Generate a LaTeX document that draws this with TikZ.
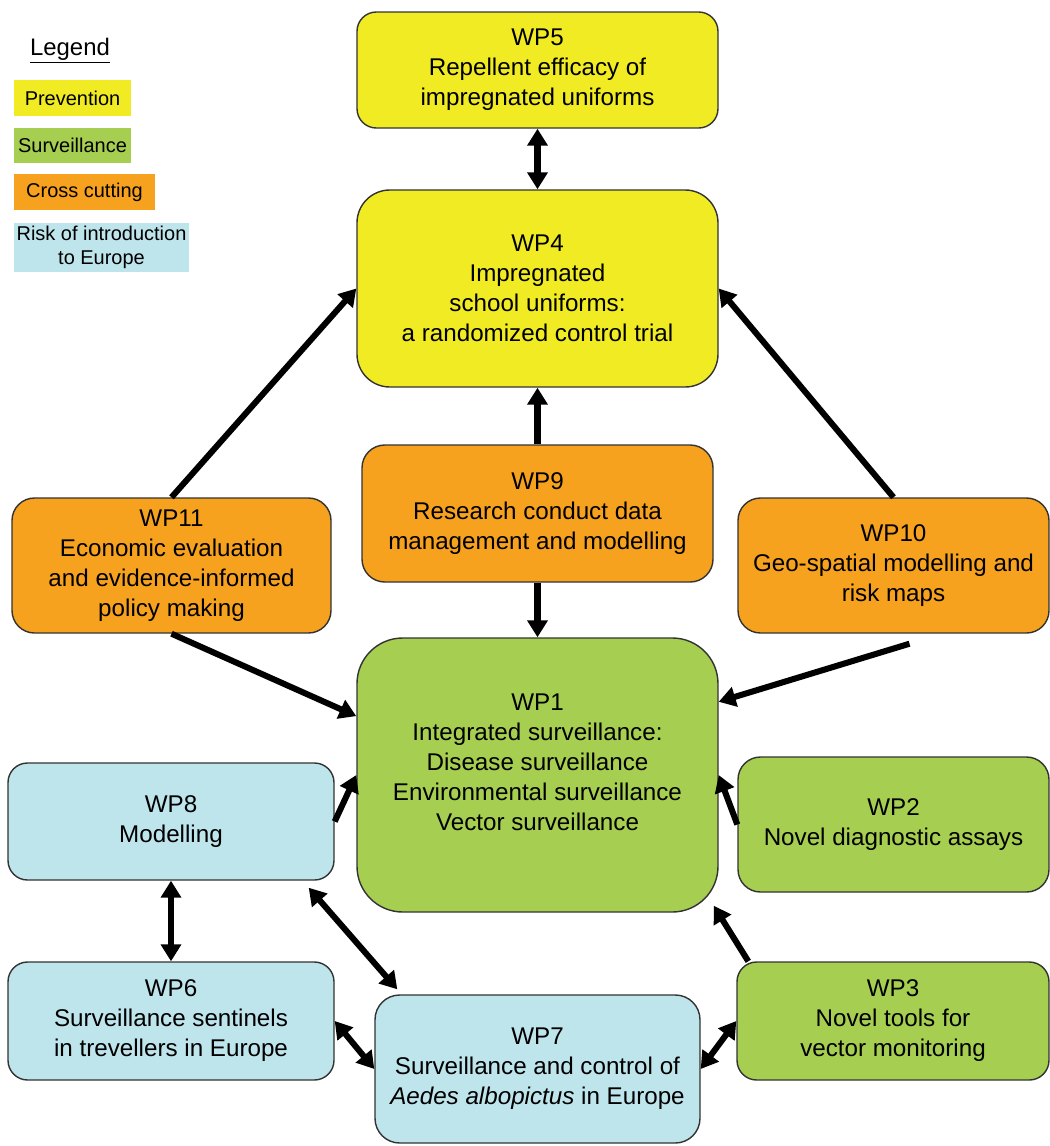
\documentclass[tikz,border=0pt]{standalone}
\usepackage{fontspec}
\setmainfont{Liberation Sans}
\usetikzlibrary{arrows.meta,calc}
\definecolor{cyel}{HTML}{F0EB23}
\definecolor{cgrn}{HTML}{A6CE50}
\definecolor{corg}{HTML}{F6A21F}
\definecolor{cblu}{HTML}{BEE4EC}
\definecolor{cedge}{HTML}{333333}
\begin{document}
\begin{tikzpicture}[x=0.025cm,y=-0.025cm,
  wpfont/.style={font=\fontsize{17.2}{21.3}\selectfont},
  wpbox/.style={draw=cedge, line width=1pt, align=center, inner sep=0pt, wpfont},
  sz/.style 2 args={minimum width=#1*0.025cm, minimum height=#2*0.025cm, rounded corners=#2*0.025cm/6},
  legsz/.style 2 args={minimum width=#1*0.025cm, minimum height=#2*0.025cm},
  legbox/.style={inner sep=0pt, align=center, font=\fontsize{14.2}{17}\selectfont},
  conn/.style={line width=4.3pt, -{Triangle[length=12pt,width=14pt]}},
  bconn/.style={line width=4.3pt, {Triangle[length=12pt,width=14pt]}-{Triangle[length=12pt,width=14pt]}},
]
\useasboundingbox (0,0) rectangle (1050,1146);

% legend
\node[anchor=base, inner sep=0pt, font=\fontsize{17}{20}\selectfont] (legtitle) at (70,55) {\underline{Legend}};
\node[legbox, fill=cyel, legsz={117}{36}] (legp) at (72.5,98) {Prevention};
\node[legbox, fill=cgrn, legsz={117}{35}] (legs) at (72.5,145.5) {Surveillance};
\node[legbox, fill=corg, legsz={141}{36}] (legc) at (84.5,192) {Cross cutting};
\node[legbox, fill=cblu, legsz={175}{49}] (legr) at (101.5,247.5) {Risk of introduction\\to Europe};

% work packages
\node[wpbox, fill=cyel, sz={361}{116}] (wp5) at (537.5,70) {WP5\\Repellent efficacy of\\impregnated uniforms};
\node[wpbox, fill=cyel, sz={361}{197}] (wp4) at (537.5,288.5) {WP4\\Impregnated\\school uniforms:\\a randomized control trial};
\node[wpbox, fill=corg, sz={351}{137}] (wp9) at (537.5,513.5) {WP9\\Research conduct data\\management and modelling};
\node[wpbox, fill=corg, sz={319}{135}] (wp11) at (171.5,565.5) {WP11\\Economic evaluation\\and evidence-informed\\policy making};
\node[wpbox, fill=corg, sz={311}{135}] (wp10) at (893.5,565.5) {WP10\\Geo-spatial modelling and\\risk maps};
\node[wpbox, fill=cgrn, sz={361}{274}] (wp1) at (537.5,775) {};
\node[wpfont, align=center, inner sep=0pt] (wp1t) at (537.5,762) {WP1\\Integrated surveillance:\\Disease surveillance\\Environmental surveillance\\Vector surveillance};
\node[wpbox, fill=cblu, sz={326}{117}] (wp8) at (171,821.5) {WP8\\Modelling};
\node[wpbox, fill=cgrn, sz={311}{135}] (wp2) at (893.5,824.5) {WP2\\Novel diagnostic assays};
\node[wpbox, fill=cblu, sz={326}{118}] (wp6) at (171,1021) {WP6\\Surveillance sentinels\\in trevellers in Europe};
\node[wpbox, fill=cblu, sz={325}{148}] (wp7) at (537.5,1069) {WP7\\Surveillance and control of\\\textit{Aedes albopictus} in Europe};
\node[wpbox, fill=cgrn, sz={312}{118}] (wp3) at (893,1021) {WP3\\Novel tools for\\vector monitoring};

% connectors
\draw[bconn] (wp5) -- (wp4);
\draw[conn] (wp9) -- (wp4);
\draw[conn] (wp9) -- (wp1);
\draw[conn] (wp11.north) -- (wp4.west);
\draw[conn] (wp10.north) -- (wp4.east);
\draw[conn] (wp11.south) -- (wp1.162);
\draw[conn] ($(wp10.south)+(16,10)$) -- (wp1.22);
\draw[conn] (wp8.east) -- (wp1.west);
\draw[conn] (wp2.west) -- (wp1.east);
\draw[bconn] (wp8.south) -- (wp6.north);
\draw[bconn] ($(wp8.south east)+(-26,7)$) -- ($(wp7.north west)+(23,-5)$);
\draw[bconn] (wp6.east) -- (wp7.west);
\draw[conn] ($(wp3.north west)+(12,0)$) -- ($(wp1.south east)+(-5,-7)$);
\draw[bconn] (wp3.west) -- (wp7.east);
\end{tikzpicture}
\end{document}
